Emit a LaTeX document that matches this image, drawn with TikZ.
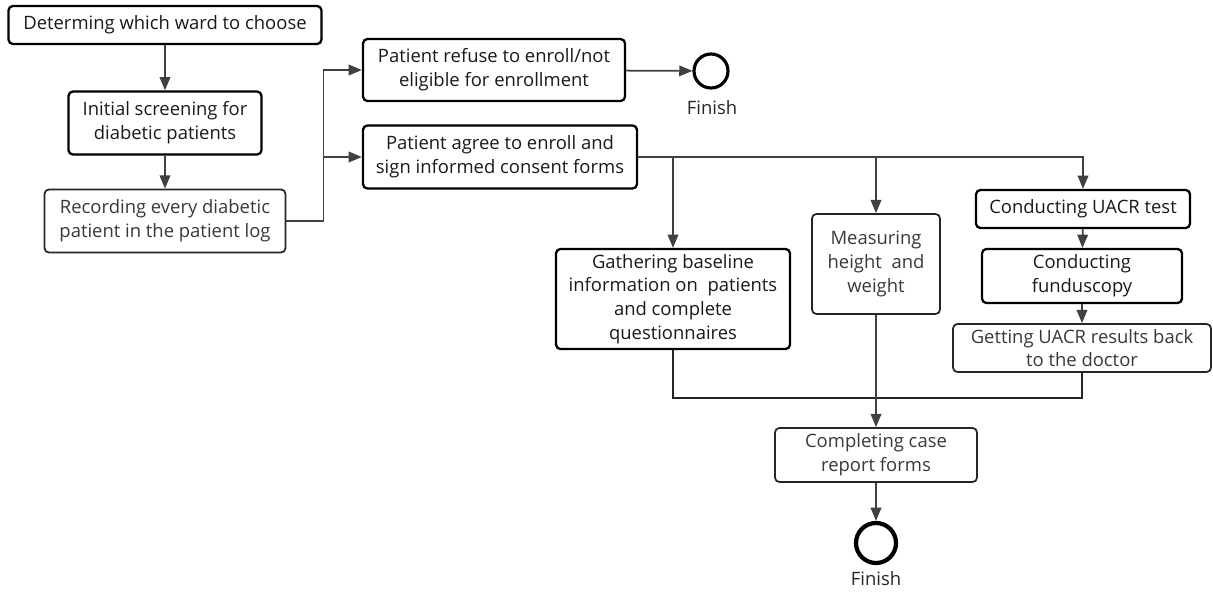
\documentclass[tikz,border=0pt]{standalone}
\usepackage{fontspec}
\setmainfont{Open Sans}
\usetikzlibrary{arrows.meta}
\tikzset{
  stepbox/.style={draw=black, line width=1.3pt, rounded corners=2.5pt, align=center,
    inner sep=0pt, text=black!90, font=\fontsize{10.5}{13.5}\selectfont},
  lightbox/.style={stepbox, draw=black!85, line width=1pt, text=black!78},
  wh/.style 2 args={minimum width=#1*0.02cm, minimum height=#2*0.02cm},
  flow/.style={draw=black!75, line width=1pt, -{Triangle[length=7.5pt,width=6pt]}},
  link/.style={draw=black!85, line width=1pt},
  finish/.style={circle, draw=black, line width=#1, inner sep=0pt},
  finishtext/.style={text=black!85, font=\fontsize{10.5}{12}\selectfont}
}
\begin{document}
\begin{tikzpicture}[x=0.02cm, y=-0.02cm]
\useasboundingbox (0,0) rectangle (1213,592);
% left column
\node[stepbox, wh={313}{38}] (ward) at (165,25) {Determing which ward to choose};
\node[stepbox, wh={193}{63}] (screen) at (165,123) {Initial screening for\\diabetic patients};
\node[lightbox, wh={241}{63}] (record) at (165,221) {Recording every diabetic\\patient in the patient log};
% decision
\node[stepbox, wh={262}{62}] (refuse) at (494,70) {Patient refuse to enroll/not\\eligible for enrollment};
\node[stepbox, wh={274}{63}] (agree) at (500,157) {Patient agree to enroll and\\sign informed consent forms};
\node[finish=1.8pt, minimum size=34*0.02cm] (fin1) at (711,71) {};
\node[finishtext] (fin1text) at (712,108) {Finish};
% branches
\node[stepbox, wh={234}{100}] (baseline) at (673,299) {Gathering baseline\\information on\ \ patients\\and complete\\questionnaires};
\node[lightbox, wh={128}{100}] (height) at (876,264) {Measuring\\height\ \ and\\weight};
\node[stepbox, wh={214}{38}] (uacr) at (1083,209) {Conducting UACR test};
\node[stepbox, wh={200}{54}] (fundus) at (1082,276) {Conducting\\funduscopy};
\node[lightbox, wh={258}{48}] (results) at (1082,348) {Getting UACR results back\\to the doctor};
% end
\node[lightbox, wh={202}{54}] (report) at (876,455) {Completing case\\report forms};
\node[finish=2.4pt, minimum size=40*0.02cm] (fin2) at (876,543) {};
\node[finishtext] (fin2text) at (876,579) {Finish};
\coordinate (join) at (876,398);

\draw[flow] (ward) -- (screen);
\draw[flow] (screen) -- (record);
\draw[flow] (record.east) -- ++(37,0) |- (refuse.west);
\draw[flow] (record.east) -- ++(37,0) |- (agree.west);
\draw[flow] (refuse) -- (fin1);
\draw[flow] (agree.east) -| (uacr.north);
\draw[flow] (agree.east -| baseline.north) -- (baseline.north);
\draw[flow] (agree.east -| height.north) -- (height.north);
\draw[flow] (uacr) -- (fundus);
\draw[flow] (fundus) -- (results);
\draw[link] (baseline.south) |- (join) -| (results.south);
\draw[flow] (height) -- (report);
\draw[flow] (report) -- (fin2);
\end{tikzpicture}
\end{document}
